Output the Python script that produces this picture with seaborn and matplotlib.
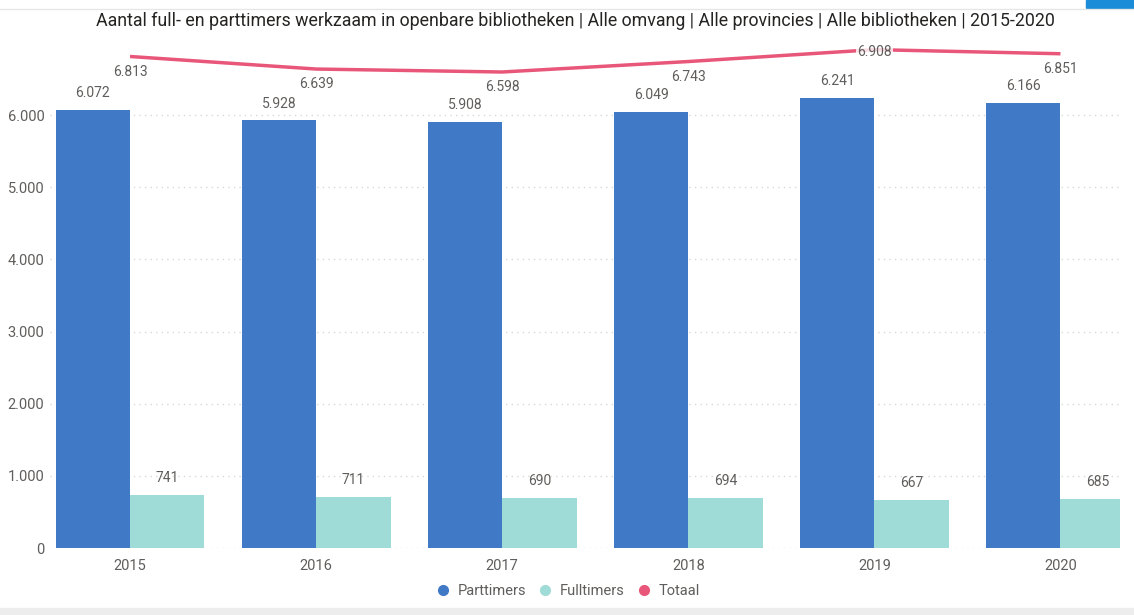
import pandas as pd
import seaborn as sns
import matplotlib.pyplot as plt
from matplotlib.lines import Line2D
from matplotlib.patches import Rectangle

years = ['2015', '2016', '2017', '2018', '2019', '2020']
parttimers = [6072, 5928, 5908, 6049, 6241, 6166]
fulltimers = [741, 711, 690, 694, 667, 685]
totaal = [6813, 6639, 6598, 6743, 6908, 6851]
yticks = [0, 1000, 2000, 3000, 4000, 5000, 6000]

c_part = '#4079C5'
c_full = '#9FDCD8'
c_tot = '#E8577A'
c_text = '#605E5C'

df = pd.DataFrame({
    'jaar': years * 2,
    'waarde': parttimers + fulltimers,
    'soort': ['Parttimers'] * 6 + ['Fulltimers'] * 6,
})

sns.set_style('white')
plt.rcParams['font.family'] = ['Roboto', 'DejaVu Sans']

fig = plt.figure(figsize=(11.34, 6.15), dpi=100)
ax = fig.add_axes([50 / 1134, 1 - 548 / 615, (1120 - 50) / 1134, (548 - 43) / 615])

sns.barplot(data=df, x='jaar', y='waarde', hue='soort', palette=[c_part, c_full],
            width=0.8, gap=0, saturation=1, linewidth=0, ax=ax, legend=False)
ax.plot(range(len(years)), totaal, color=c_tot, lw=2.5, zorder=5, solid_capstyle='butt')

ax.set_xlim(-0.43, 5.32)
ax.set_ylim(0, 7000)
ax.set_yticks(yticks)
ax.set_yticklabels([f'{v:,}'.replace(',', '.') for v in yticks])
ax.set_xlabel('')
ax.set_ylabel('')
ax.tick_params(axis='both', length=0, labelsize=10.5, colors=c_text)
ax.tick_params(axis='x', pad=8)
ax.tick_params(axis='y', pad=4)
for s in ax.spines.values():
    s.set_visible(False)
ax.grid(axis='y', color='#D9D9D9', linestyle=(0, (1, 3)), lw=1)
ax.set_axisbelow(True)

for i in range(len(years)):
    ax.annotate(f'{parttimers[i]:,}'.replace(',', '.'), (i - 0.2, parttimers[i]),
                xytext=(0, 7), textcoords='offset points', ha='center', va='bottom',
                fontsize=10, color=c_text)
    ax.annotate(f'{fulltimers[i]:,}'.replace(',', '.'), (i + 0.2, fulltimers[i]),
                xytext=(0, 7), textcoords='offset points', ha='center', va='bottom',
                fontsize=10, color=c_text)
    off = 3 if i == 4 else -6
    ax.annotate(f'{totaal[i]:,}'.replace(',', '.'), (i, totaal[i]),
                xytext=(0, off), textcoords='offset points', ha='center', va='top',
                fontsize=10, color=c_text, zorder=6,
                bbox=dict(boxstyle='square,pad=0.1', fc='white', ec='none', alpha=0.8))

fig.text(575 / 1134, 1 - 21 / 615,
         'Aantal full- en parttimers werkzaam in openbare bibliotheken | Alle omvang | '
         'Alle provincies | Alle bibliotheken | 2015-2020',
         ha='center', va='center', fontsize=12.8, color='#252423')

handles = [Line2D([], [], marker='o', ls='', color=c, markersize=7)
           for c in [c_part, c_full, c_tot]]
fig.legend(handles, ['Parttimers', 'Fulltimers', 'Totaal'], loc='center',
           bbox_to_anchor=(564 / 1134, 1 - 591 / 615), ncol=3, frameon=False,
           handletextpad=0.0, columnspacing=0.3, fontsize=10.5, labelcolor=c_text)

# report frame decorations
fig.add_artist(Line2D([0, 1], [1 - 9 / 615, 1 - 9 / 615], color='#E6E6E6', lw=1,
                      transform=fig.transFigure))
fig.add_artist(Rectangle((1086 / 1134, 1 - 8 / 615), 48 / 1134, 8 / 615,
                         color='#1A8CD8', transform=fig.transFigure))
fig.add_artist(Rectangle((0, 0), 1, 7 / 615, color='#EDEDED', transform=fig.transFigure))

fig.savefig('out.png', dpi=100)
